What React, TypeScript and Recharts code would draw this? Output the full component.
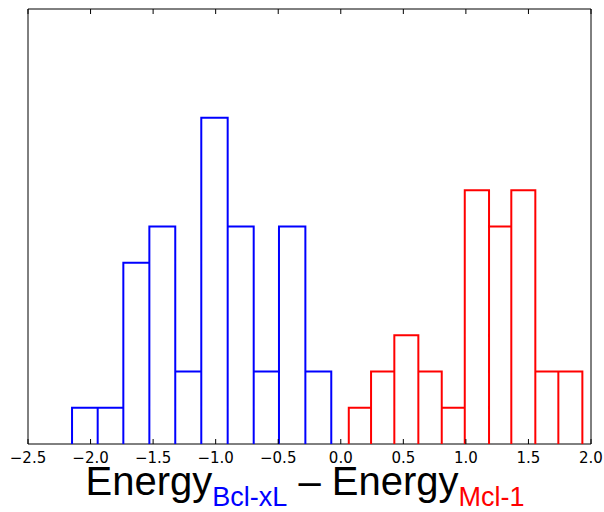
import { ComposedChart, Line, XAxis, YAxis, ReferenceArea } from 'recharts'

// histogram bin edges and counts
const blueEdges = [-2.148, -1.943, -1.738, -1.53, -1.323, -1.115, -0.904, -0.696, -0.494, -0.283, -0.076]
const blueCounts = [1, 1, 5, 6, 2, 9, 6, 2, 6, 2]
const redEdges = [0.064, 0.242, 0.428, 0.62, 0.807, 0.991, 1.185, 1.363, 1.555, 1.739, 1.931]
const redCounts = [1, 2, 3, 2, 1, 7, 6, 7, 2, 2]
const xTicks = [-2.5, -2.0, -1.5, -1.0, -0.5, 0.0, 0.5, 1.0, 1.5, 2.0]

// trace each bin as its own rectangle (up, across, down)
function outline(edges: number[], counts: number[]) {
  const pts: { x: number; y: number }[] = []
  counts.forEach((c, i) => {
    pts.push({ x: edges[i], y: 0 }, { x: edges[i], y: c }, { x: edges[i + 1], y: c }, { x: edges[i + 1], y: 0 })
  })
  return pts
}

const blueData = outline(blueEdges, blueCounts)
const redData = outline(redEdges, redCounts)

const fmt = (v: number) => (v < 0 ? '\u2212' + Math.abs(v).toFixed(1) : v.toFixed(1))

function BottomTick(props: any) {
  const { x, y, payload } = props
  return (
    <g>
      <line x1={x} y1={y} x2={x} y2={y - 5} stroke="#000" strokeWidth={1} />
      <text x={x} y={y + 19} textAnchor="middle" fontFamily="DejaVu Sans" fontSize={15} fill="#000">
        {fmt(payload.value)}
      </text>
    </g>
  )
}

function TopTick(props: any) {
  const { x, y } = props
  return <line x1={x} y1={y} x2={x} y2={y + 5} stroke="#000" strokeWidth={1} />
}

function AxisTitle(props: any) {
  const { viewBox } = props
  const x = viewBox.x + 277
  const y = viewBox.y + 51
  return (
    <text x={x} y={y} textAnchor="middle" fontFamily="Liberation Sans, Arial, sans-serif" fill="#000">
      <tspan fontSize={40}>Energy</tspan>
      <tspan fontSize={27} fill="#0000ff" dy={11}>Bcl-xL</tspan>
      <tspan fontSize={40} dy={-11}> – Energy</tspan>
      <tspan fontSize={27} fill="#ff0000" dy={11}>Mcl-1</tspan>
    </text>
  )
}

export default function App() {
  return (
    <div style={{ position: 'absolute', left: 0, top: 0, background: '#fff' }}>
      <ComposedChart width={604} height={512} margin={{ top: 0, right: 13, bottom: 0, left: 28 }}>
        <XAxis
          dataKey="x"
          type="number"
          domain={[-2.5, 2]}
          ticks={xTicks}
          allowDataOverflow
          height={68}
          axisLine={false}
          tickLine={false}
          tickSize={0}
          tickMargin={0}
          interval={0}
          tick={<BottomTick />}
          label={<AxisTitle />}
        />
        <XAxis
          xAxisId="top"
          orientation="top"
          dataKey="x"
          type="number"
          domain={[-2.5, 2]}
          ticks={xTicks}
          allowDataOverflow
          height={9}
          axisLine={false}
          tickLine={false}
          tickSize={0}
          tickMargin={0}
          interval={0}
          tick={<TopTick />}
        />
        <YAxis type="number" domain={[0, 12]} width={0} axisLine={false} tickLine={false} tick={false} />
        <ReferenceArea x1={-2.5} x2={2} y1={0} y2={12} fill="none" stroke="#000" strokeWidth={1} />
        <Line
          data={blueData}
          dataKey="y"
          type="linear"
          stroke="#0000ff"
          strokeWidth={2}
          dot={false}
          activeDot={false}
          isAnimationActive={false}
        />
        <Line
          data={redData}
          dataKey="y"
          type="linear"
          stroke="#ff0000"
          strokeWidth={2}
          dot={false}
          activeDot={false}
          isAnimationActive={false}
        />
      </ComposedChart>
    </div>
  )
}
